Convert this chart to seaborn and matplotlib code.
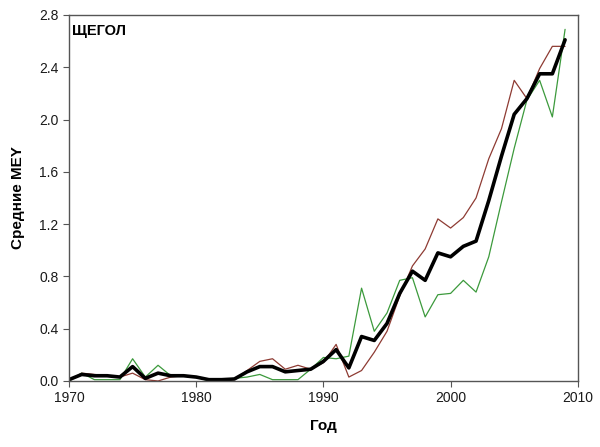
import numpy as np
import pandas as pd
import matplotlib
matplotlib.use("Agg")
import matplotlib.pyplot as plt
import seaborn as sns

years = list(range(1970, 2010))

mey_mean = [0.01, 0.05, 0.04, 0.04, 0.03, 0.11, 0.02, 0.06, 0.04, 0.04,
            0.03, 0.01, 0.01, 0.015, 0.07, 0.11, 0.11, 0.07, 0.08, 0.09,
            0.15, 0.24, 0.10, 0.34, 0.31, 0.44, 0.67, 0.84, 0.77, 0.98,
            0.95, 1.03, 1.07, 1.38, 1.72, 2.04, 2.16, 2.35, 2.35, 2.61]

mey_high = [0.0, 0.06, 0.05, 0.04, 0.03, 0.06, 0.01, 0.0, 0.03, 0.04,
            0.03, 0.01, 0.01, 0.01, 0.08, 0.15, 0.17, 0.09, 0.12, 0.09,
            0.14, 0.28, 0.03, 0.08, 0.22, 0.38, 0.65, 0.88, 1.01, 1.24,
            1.17, 1.25, 1.40, 1.70, 1.93, 2.30, 2.16, 2.39, 2.56, 2.56]

mey_low = [0.0, 0.06, 0.01, 0.01, 0.01, 0.17, 0.03, 0.12, 0.04, 0.045,
           0.03, 0.0, 0.01, 0.02, 0.03, 0.05, 0.01, 0.01, 0.01, 0.09,
           0.18, 0.17, 0.19, 0.71, 0.38, 0.52, 0.77, 0.79, 0.49, 0.66,
           0.67, 0.77, 0.68, 0.95, 1.37, 1.78, 2.15, 2.30, 2.02, 2.69]

df = pd.DataFrame({"year": years, "mean": mey_mean, "high": mey_high, "low": mey_low})

sns.set_style("ticks")
plt.rcParams["font.family"] = ["Liberation Sans", "DejaVu Sans"]

fig = plt.figure(figsize=(6, 4.47), dpi=100)
ax = fig.add_axes([0.115, 0.1477, 0.848, 0.8188])

# thin brown / green envelopes, thick black mean on top
sns.lineplot(data=df, x="year", y="high", color="#8e3b33", linewidth=0.9, ax=ax)
sns.lineplot(data=df, x="year", y="low", color="#3c9a3c", linewidth=0.9, ax=ax)
sns.lineplot(data=df, x="year", y="mean", color="black", linewidth=2.6, ax=ax)

ax.set_xlim(1970, 2010)
ax.set_ylim(0, 2.8)
ax.set_xticks([1970, 1980, 1990, 2000, 2010])
ax.set_yticks(np.arange(0, 2.81, 0.4))
ax.set_yticklabels([f"{v:.1f}" for v in np.arange(0, 2.81, 0.4)])
ax.tick_params(labelsize=10, length=4, color="#555555", labelcolor="#1a1a1a", direction="out")

for s in ax.spines.values():
    s.set_visible(True)
    s.set_color("#555555")
    s.set_linewidth(1.0)

ax.set_xlabel("Год", fontsize=11, fontweight="bold", labelpad=10, color="black")
ax.set_ylabel("Средние MEY", fontsize=11, fontweight="bold", labelpad=10, color="black")
ax.text(0.005, 0.975, "ЩЕГОЛ", transform=ax.transAxes, fontsize=10.5,
        fontweight="bold", va="top", ha="left", color="black")

fig.savefig("out.png", dpi=100)
